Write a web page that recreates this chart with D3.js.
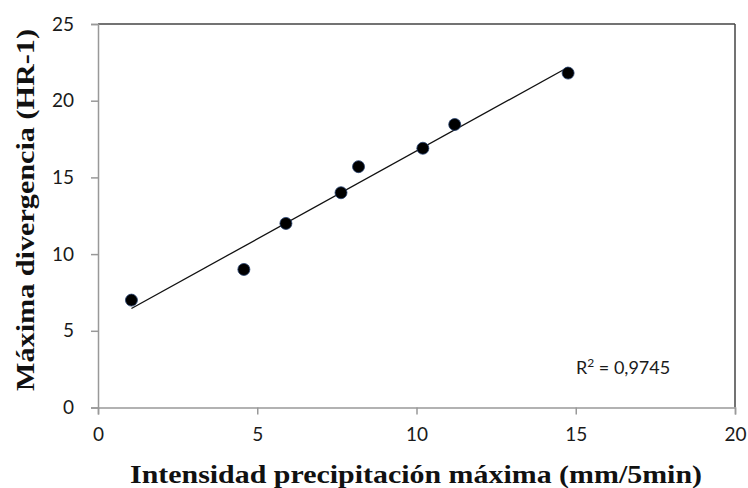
<!DOCTYPE html>
<html>
<head>
<meta charset="utf-8">
<script src="https://cdn.jsdelivr.net/npm/d3@7"></script>
<style>
  body { margin: 0; background: #fff; }
</style>
</head>
<body>
<div id="chart"></div>
<script>
// data
const intensidad = [1.05, 4.58, 5.9, 7.63, 8.18, 10.2, 11.2, 14.76];
const divergencia = [7.0, 9.0, 12.0, 14.0, 15.7, 16.9, 18.45, 21.8];
const xTicks = [0, 5, 10, 15, 20];
const yTicks = [0, 5, 10, 15, 20, 25];
const r2Label = "0,9745";

const width = 748, height = 488;
const margin = { left: 98, right: 13, top: 24, bottom: 80.5 };

const svg = d3.select("#chart").append("svg")
    .attr("width", width)
    .attr("height", height);

const x = d3.scaleLinear().domain([0, 20]).range([margin.left, width - margin.right]);
const y = d3.scaleLinear().domain([0, 25]).range([height - margin.bottom, margin.top]);

const tickFont = "Lato, 'Open Sans', sans-serif";
const titleFont = "'Liberation Serif', 'Times New Roman', serif";

// frame: top and right darker
svg.append("line")
    .attr("x1", x(0)).attr("x2", x(20))
    .attr("y1", y(25)).attr("y2", y(25))
    .attr("stroke", "#444").attr("stroke-width", 1.5);
svg.append("line")
    .attr("x1", x(20)).attr("x2", x(20))
    .attr("y1", y(25)).attr("y2", y(0))
    .attr("stroke", "#444").attr("stroke-width", 1.5);

// axes
const xAxis = svg.append("g")
    .attr("transform", `translate(0,${y(0)})`)
    .call(d3.axisBottom(x).tickValues(xTicks).tickSize(7).tickPadding(13));
const yAxis = svg.append("g")
    .attr("transform", `translate(${x(0)},0)`)
    .call(d3.axisLeft(y).tickValues(yTicks).tickSize(7).tickPadding(17));

[xAxis, yAxis].forEach(g => {
    g.select(".domain").attr("stroke", "#999").attr("stroke-width", 1.5);
    g.selectAll(".tick line").attr("stroke", "#999").attr("stroke-width", 1.5);
    g.selectAll(".tick text")
        .attr("fill", "#1a1a1a")
        .style("font-family", tickFont)
        .style("font-size", "19px");
});

// least squares trend line
const mx = d3.mean(intensidad), my = d3.mean(divergencia);
let sxy = 0, sxx = 0;
intensidad.forEach((v, i) => {
    sxy += (v - mx) * (divergencia[i] - my);
    sxx += (v - mx) * (v - mx);
});
const slope = sxy / sxx;
const intercept = my - slope * mx;
const [xMin, xMax] = d3.extent(intensidad);

svg.append("line")
    .attr("x1", x(xMin)).attr("y1", y(intercept + slope * xMin))
    .attr("x2", x(xMax)).attr("y2", y(intercept + slope * xMax))
    .attr("stroke", "#111")
    .attr("stroke-width", 1.3);

// points
svg.append("g")
    .selectAll("circle")
    .data(intensidad)
    .join("circle")
    .attr("cx", d => x(d))
    .attr("cy", (d, i) => y(divergencia[i]))
    .attr("r", 6)
    .attr("fill", "#000")
    .attr("stroke", "#24406e")
    .attr("stroke-width", 0.8);

// R squared
const r2 = svg.append("text")
    .attr("x", 576)
    .attr("y", 374)
    .attr("fill", "#1a1a1a")
    .style("font-family", tickFont)
    .style("font-size", "18px");
r2.append("tspan").text("R");
r2.append("tspan").attr("dy", -7).style("font-size", "12px").text("2");
r2.append("tspan").attr("dy", 7).text(" = " + r2Label);

// axis titles
svg.append("text")
    .attr("x", 130)
    .attr("y", 483)
    .attr("textLength", 572)
    .attr("lengthAdjust", "spacingAndGlyphs")
    .attr("fill", "#111")
    .style("font-family", titleFont)
    .style("font-weight", "bold")
    .style("font-size", "26px")
    .text("Intensidad precipitación máxima (mm/5min)");

svg.append("text")
    .attr("transform", "translate(34,391) rotate(-90)")
    .attr("textLength", 362)
    .attr("lengthAdjust", "spacingAndGlyphs")
    .attr("fill", "#111")
    .style("font-family", titleFont)
    .style("font-weight", "bold")
    .style("font-size", "26px")
    .text("Máxima divergencia (HR-1)");
</script>
</body>
</html>
